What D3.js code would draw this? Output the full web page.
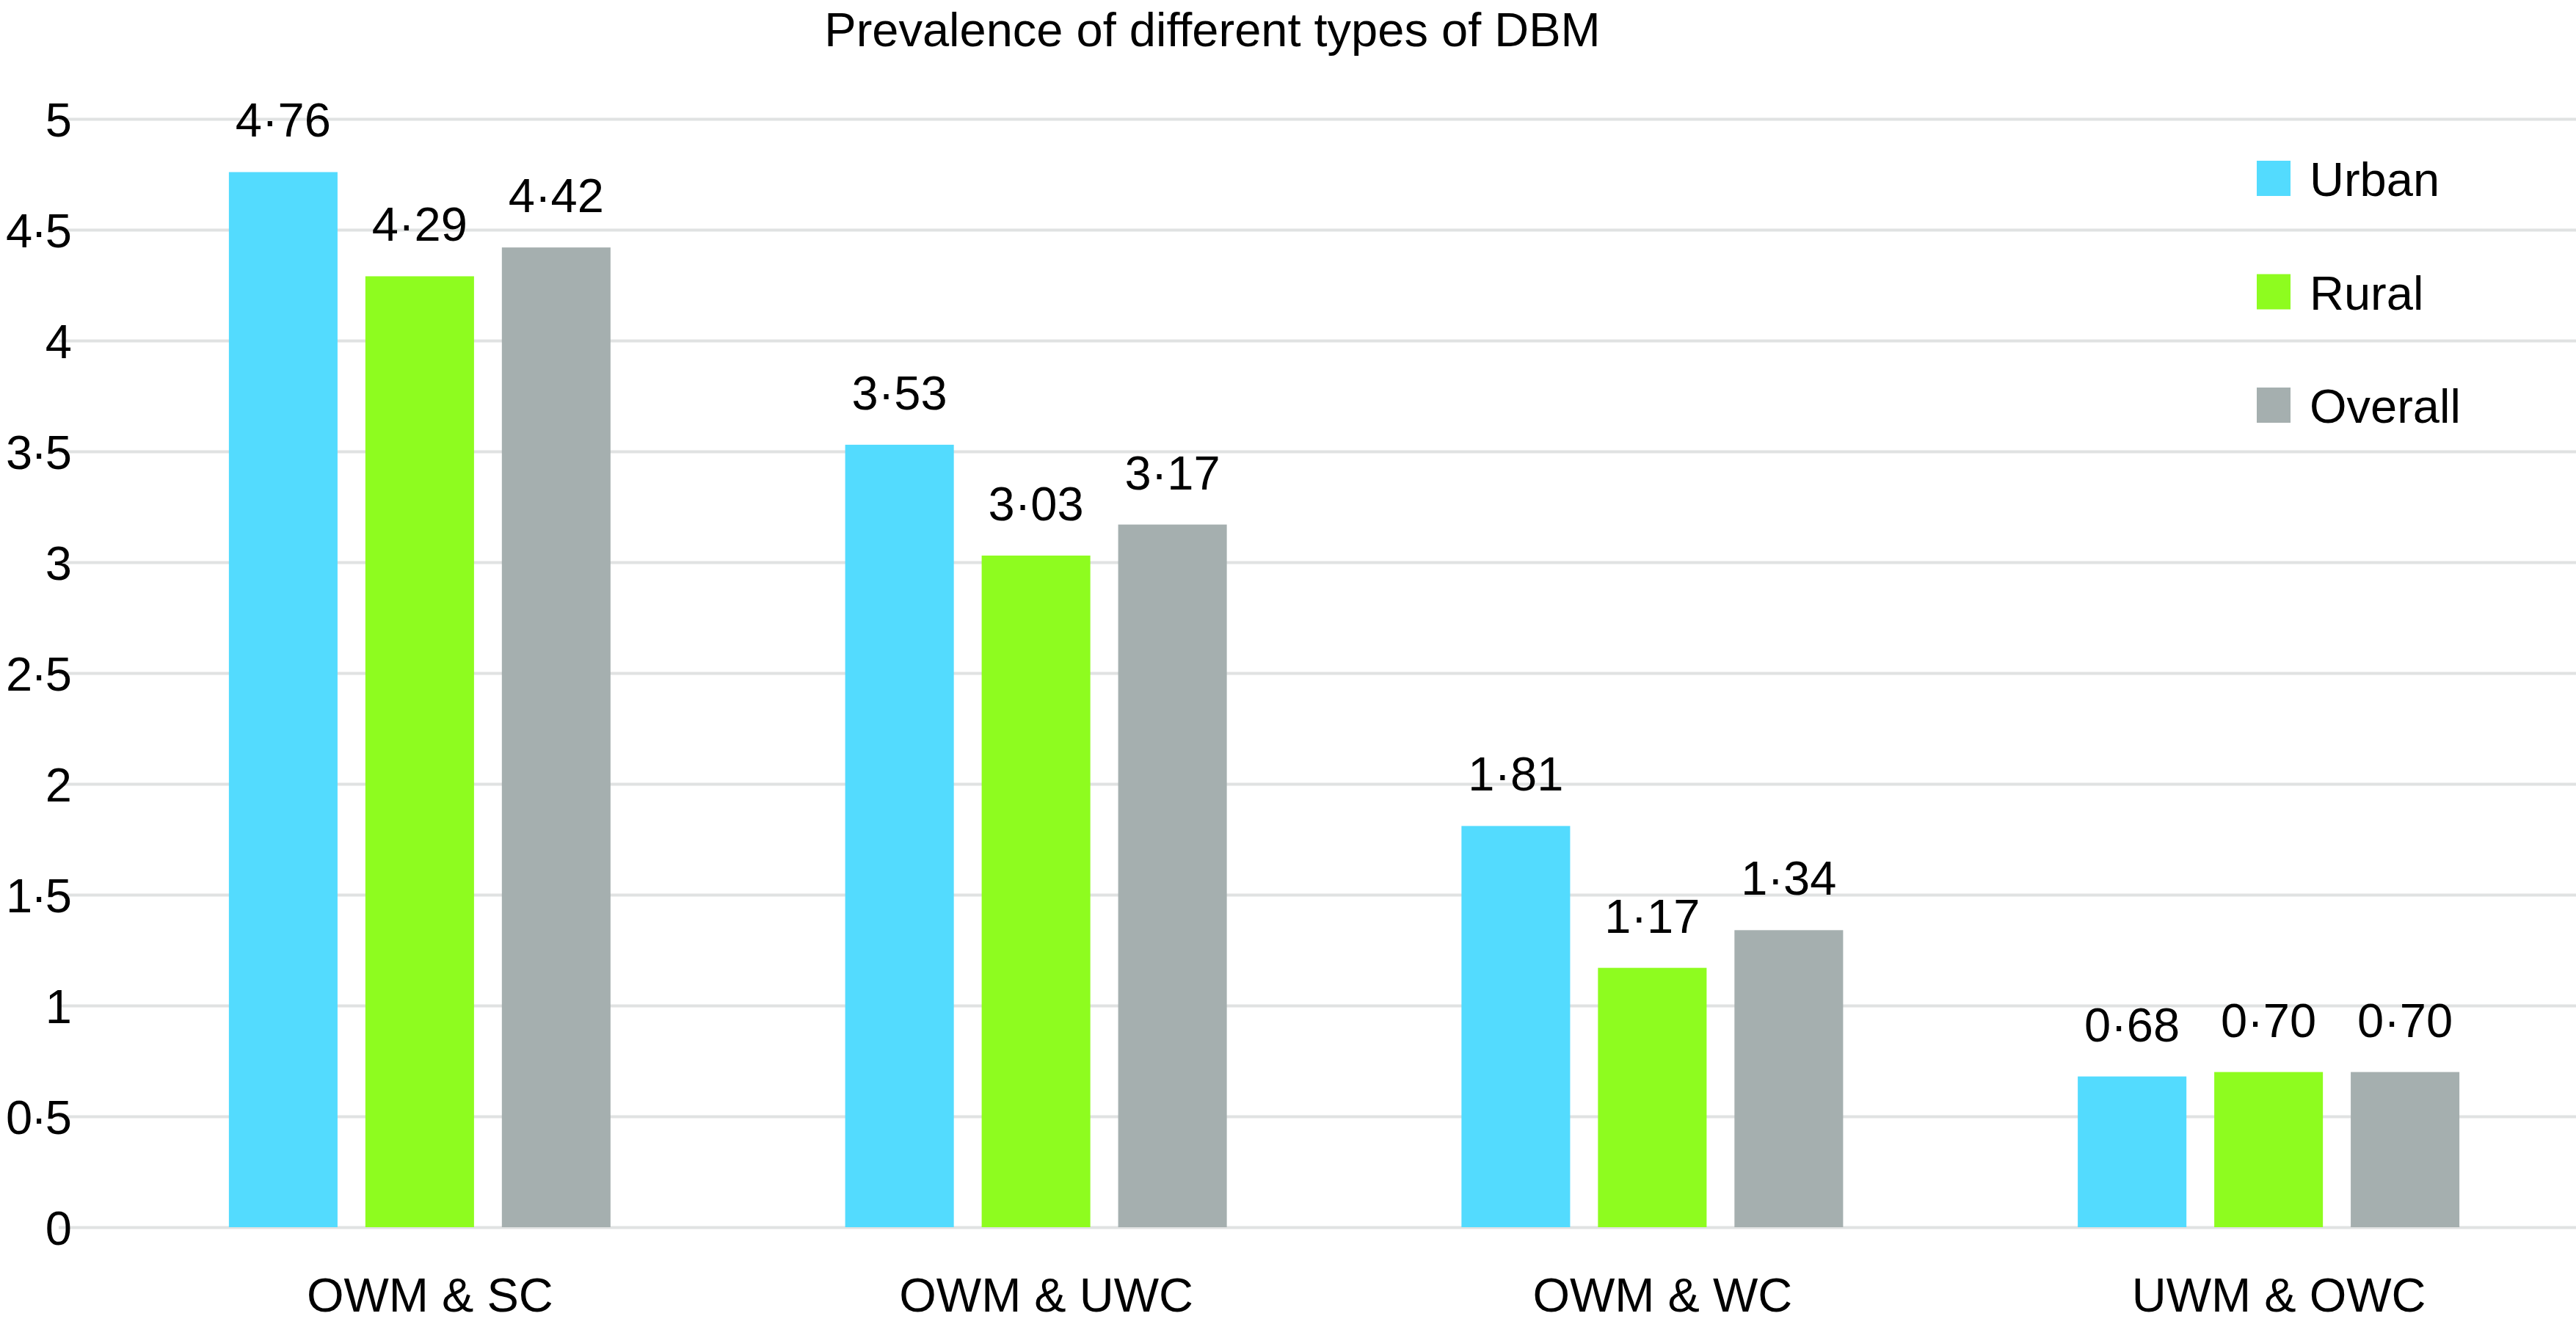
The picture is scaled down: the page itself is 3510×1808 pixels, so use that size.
<!DOCTYPE html>
<html>
<head>
<meta charset="utf-8">
<script src="https://cdn.jsdelivr.net/npm/d3@7"></script>
<style>
  html, body { margin: 0; padding: 0; background: #ffffff; }
  svg { display: block; font-family: "Liberation Sans", Arial, Helvetica, sans-serif; }
</style>
</head>
<body>
<svg id="chart" width="3510" height="1808"></svg>
<script>
const title = "Prevalence of different types of DBM";
const categories = ["OWM & SC", "OWM & UWC", "OWM & WC", "UWM & OWC"];
const seriesNames = ["Urban", "Rural", "Overall"];
const urban = [4.76, 3.53, 1.81, 0.68];
const rural = [4.29, 3.03, 1.17, 0.70];
const overall = [4.42, 3.17, 1.34, 0.70];
const yTicks = [0, 0.5, 1, 1.5, 2, 2.5, 3, 3.5, 4, 4.5, 5];
const colors = ["#53dbfe", "#8efc1f", "#a5afaf"];

const seriesValues = [urban, rural, overall];
const W = 3510, H = 1808;
const svg = d3.select("#chart");

const plotLeft = 152, plotRight = 3511, yTop = 162, yBottom = 1672;
const FS = 65;
const fmt = v => String(v).replace(".", "\u00B7");
const fmt2 = v => d3.format(".2f")(v).replace(".", "\u00B7");

const y = d3.scaleLinear().domain([0, 5]).range([yBottom, yTop]);
const x0 = d3.scaleBand().domain(categories).range([plotLeft, plotRight]).paddingInner(0).paddingOuter(0);
const bw = x0.bandwidth();
const xi = d3.scaleBand().domain(seriesNames).range([bw / 2 - 260, bw / 2 + 260]).paddingInner(0.204).paddingOuter(0);
const color = d3.scaleOrdinal().domain(seriesNames).range(colors);

// gridlines via axis
const yAxis = d3.axisLeft(y).tickValues(yTicks).tickSize(-(W - 80)).tickFormat(d => fmt(d)).tickPadding(0);
const gy = svg.append("g").attr("transform", `translate(${80},0)`).call(yAxis);
gy.select(".domain").remove();
gy.selectAll(".tick line").attr("stroke", "#e0e2e2").attr("stroke-width", 4);
gy.selectAll(".tick text").remove();

// y tick labels
svg.append("g").selectAll("text").data(yTicks).join("text")
  .attr("x", 96).attr("y", d => y(d) + 24)
  .attr("text-anchor", "end").attr("font-size", FS).attr("letter-spacing", -2).attr("fill", "#000")
  .text(d => fmt(d));

// bars
const rows = categories.map((c, i) => ({ cat: c, vals: seriesNames.map((s, j) => ({ s, v: seriesValues[j][i] })) }));
const groups = svg.append("g").selectAll("g").data(rows).join("g")
  .attr("transform", d => `translate(${x0(d.cat)},0)`);
groups.selectAll("rect").data(d => d.vals).join("rect")
  .attr("x", d => xi(d.s)).attr("width", xi.bandwidth())
  .attr("y", d => y(d.v)).attr("height", d => y(0) - y(d.v))
  .attr("fill", d => color(d.s));
groups.selectAll("text.val").data(d => d.vals).join("text").attr("class", "val")
  .attr("x", d => xi(d.s) + xi.bandwidth() / 2).attr("y", d => y(d.v) - 48)
  .attr("text-anchor", "middle").attr("font-size", FS).attr("fill", "#000")
  .text(d => fmt2(d.v));

// category labels
svg.append("g").selectAll("text").data(categories).join("text")
  .attr("x", d => x0(d) + bw / 2 + 14).attr("y", 1787)
  .attr("text-anchor", "middle").attr("font-size", FS).attr("fill", "#000")
  .text(d => d);

// title
svg.append("text").attr("x", 1652).attr("y", 63).attr("text-anchor", "middle")
  .attr("font-size", FS).attr("fill", "#000").text(title);

// legend
const legendY = d3.scalePoint().domain(seriesNames).range([243, 552]);
const lg = svg.append("g").selectAll("g").data(seriesNames).join("g")
  .attr("transform", d => `translate(3075,${legendY(d)})`);
lg.append("rect").attr("x", 0).attr("y", -24).attr("width", 46).attr("height", 48).attr("fill", d => color(d));
lg.append("text").attr("x", 72).attr("y", 24).attr("font-size", FS).attr("fill", "#000").text(d => d);
</script>
</body>
</html>
